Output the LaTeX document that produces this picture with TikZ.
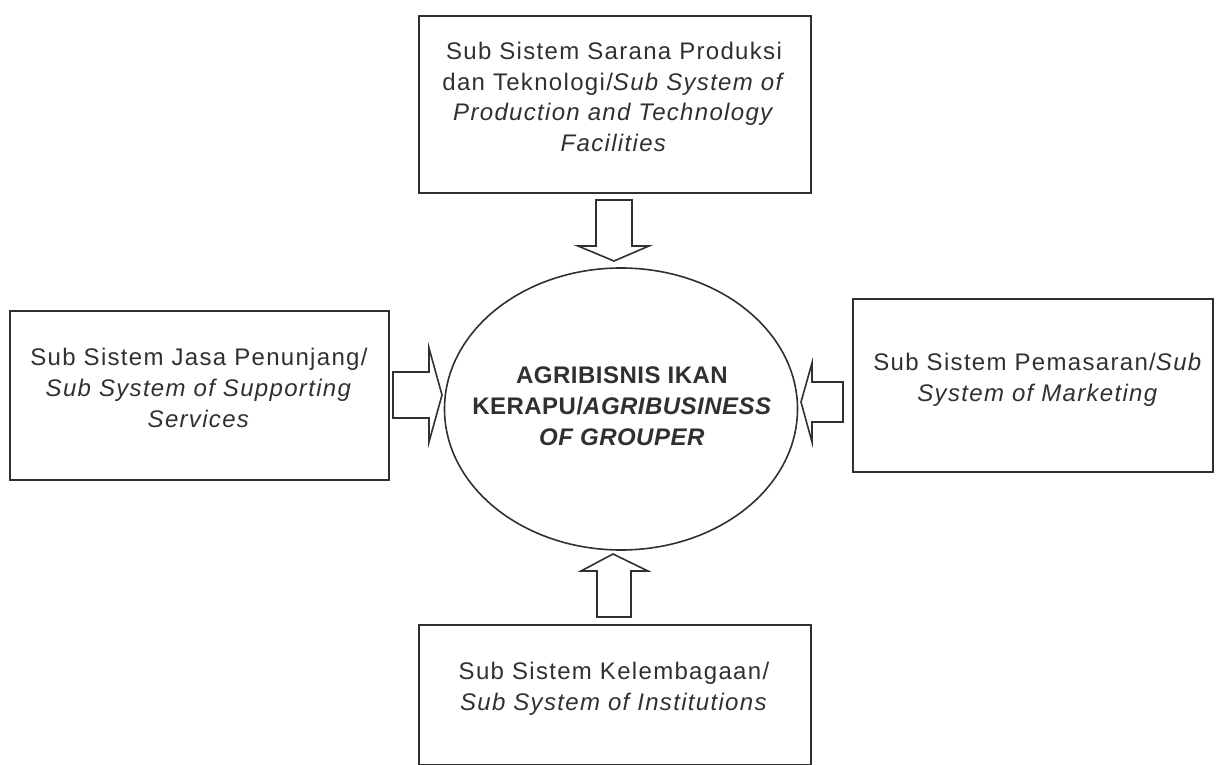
\documentclass[tikz,border=0pt]{standalone}
\usepackage{fontspec}
\newfontfamily\lab{Liberation Sans}[LetterSpace=5.5]
\newfontfamily\labb{Liberation Sans}[LetterSpace=2]
\usetikzlibrary{shapes.geometric,fit}
\definecolor{ink}{HTML}{303030}
\begin{document}
\begin{tikzpicture}[x=0.5pt,y=-0.5pt,
  box/.style={draw=ink,line width=1pt,inner sep=0pt},
  txt/.style={text=ink,align=center,inner sep=0pt,anchor=base,font=\lab\fontsize{12}{15.5}\selectfont},
  ctxt/.style={txt,font=\labb\bfseries\fontsize{12}{15.5}\selectfont},
  blk/.style={draw=ink,line width=0.8pt,fill=white,line join=miter}]
\useasboundingbox (0,0) rectangle (1216,765);
% boxes
\node[box,fit={(419,16)(811,193)}] (top) {};
\node[box,fit={(10,311)(389,480)}] (left) {};
\node[box,fit={(853,299)(1213,472)}] (right) {};
\node[box,fit={(419,625)(811,765)}] (bottom) {};
\node[draw=ink,line width=0.8pt,ellipse,inner sep=0pt,minimum width=176.5pt,minimum height=141pt] (core) at (621,409) {};
% texts (anchored at the baseline of the last line)
\node[txt] (toptext) at (614,152) {Sub Sistem Sarana Produksi\\dan Teknologi/\textit{Sub System of}\\\textit{Production and Technology}\\\textit{Facilities}};
\node[txt] (lefttext) at (199,427) {Sub Sistem Jasa Penunjang/\\\textit{Sub System of Supporting}\\\textit{Services}};
\node[txt] (righttext) at (1038,401) {Sub Sistem Pemasaran/\textit{Sub}\\\textit{System of Marketing}};
\node[txt] (bottomtext) at (614,710) {Sub Sistem Kelembagaan/\\\textit{Sub System of Institutions}};
\node[ctxt] (coretext) at (622,445) {AGRIBISNIS IKAN\\KERAPU/\textit{AGRIBUSINESS}\\\textit{OF GROUPER}};
% block arrows
\draw[blk] (596,200) -- (632,200) -- (632,246) -- (649,246) -- (614,261) -- (578,246) -- (596,246) -- cycle;
\draw[blk] (393,372) -- (429,372) -- (429,348) -- (442,395) -- (429,442) -- (429,418) -- (393,418) -- cycle;
\draw[blk] (843,382) -- (812,382) -- (812,363) -- (801,402) -- (812,442) -- (812,422) -- (843,422) -- cycle;
\draw[blk] (597,617) -- (597,571) -- (581,571) -- (613,554) -- (648,571) -- (631,571) -- (631,617) -- cycle;
\end{tikzpicture}
\end{document}
